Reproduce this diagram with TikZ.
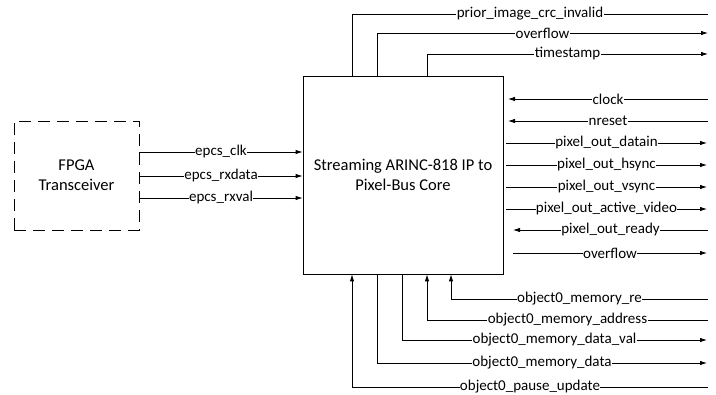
\documentclass[tikz,border=0pt]{standalone}
\usepackage{fontspec}
\setmainfont{Carlito}
\usetikzlibrary{arrows.meta}

\begin{document}
\begin{tikzpicture}[x=1pt,y=-1pt,>={Latex[length=7pt,width=4.5pt]},line width=0.8pt,
  every node/.style={font=\fontsize{15}{18}\selectfont},
  sig/.style={fill=white,inner sep=0.4pt}]
  \useasboundingbox (0,0) rectangle (716,395);
  % blocks
  \node[draw,minimum width=200pt,minimum height=198pt,align=center,font=\fontsize{16.5}{20}\selectfont] (core) at (403,175) {Streaming ARINC-818 IP to\\Pixel-Bus Core};
  \node[draw,dash pattern=on 12pt off 7pt,minimum width=125pt,minimum height=109pt,align=center,font=\fontsize{16.5}{20}\selectfont] (fpga) at (76.5,175.5) {FPGA\\Transceiver};
  % free ends on the right
  \coordinate (crcR) at (708,14);
  \coordinate (ovfTopR) at (708,33);
  \coordinate (tsR) at (708,54);
  \coordinate (clkL) at (508,99);
  \coordinate (clkR) at (708,99);
  \coordinate (nrstL) at (508,121);
  \coordinate (nrstR) at (708,121);
  \coordinate (datL) at (506,143);
  \coordinate (datR) at (707,143);
  \coordinate (hsL) at (506,165);
  \coordinate (hsR) at (707,165);
  \coordinate (vsL) at (506,187);
  \coordinate (vsR) at (707,187);
  \coordinate (avL) at (506,209);
  \coordinate (avR) at (707,209);
  \coordinate (rdyL) at (513,230);
  \coordinate (rdyR) at (708,230);
  \coordinate (ovfL) at (513,253);
  \coordinate (ovfR) at (707,253);
  \coordinate (reR) at (708,299);
  \coordinate (addrR) at (708,320);
  \coordinate (dvalR) at (707,340);
  \coordinate (dataR) at (707,363);
  \coordinate (pauseR) at (708,387);
  % transceiver to core
  \draw[->] (fpga.east |- 0,152) -- node[sig] {epcs\_clk} (core.west |- 0,152);
  \draw[->] (fpga.east |- 0,176) -- node[sig] {epcs\_rxdata} (core.west |- 0,176);
  \draw[->] (fpga.east |- 0,198) -- node[sig] {epcs\_rxval} (core.west |- 0,198);
  % top
  \draw (core.north -| 352,0) |- node[sig,pos=0.75] {prior\_image\_crc\_invalid} (crcR);
  \draw[->] (core.north -| 377,0) |- node[sig,pos=0.75] {overflow} (ovfTopR);
  \draw[->] (core.north -| 427,0) |- node[sig,pos=0.75] {timestamp} (tsR);
  % right side
  \draw[->] (clkR) -- node[sig] {clock} (clkL);
  \draw[->] (nrstR) -- node[sig] {nreset} (nrstL);
  \draw[->] (datL) -- node[sig] {pixel\_out\_datain} (datR);
  \draw[->] (hsL) -- node[sig] {pixel\_out\_hsync} (hsR);
  \draw[->] (vsL) -- node[sig] {pixel\_out\_vsync} (vsR);
  \draw[->] (avL) -- node[sig] {pixel\_out\_active\_video} (avR);
  \draw[->] (rdyR) -- node[sig] {pixel\_out\_ready} (rdyL);
  \draw[->] (ovfL) -- node[sig] {overflow} (ovfR);
  % bottom
  \draw[->] (reR) -| node[sig,pos=0.25] {object0\_memory\_re} (core.south -| 451,0);
  \draw[->] (addrR) -| node[sig,pos=0.25] {object0\_memory\_address} (core.south -| 427,0);
  \draw[->] (core.south -| 402,0) |- node[sig,pos=0.75] {object0\_memory\_data\_val} (dvalR);
  \draw[->] (core.south -| 377,0) |- node[sig,pos=0.75] {object0\_memory\_data} (dataR);
  \draw[->] (pauseR) -| node[sig,pos=0.25] {object0\_pause\_update} (core.south -| 352,0);
\end{tikzpicture}
\end{document}
